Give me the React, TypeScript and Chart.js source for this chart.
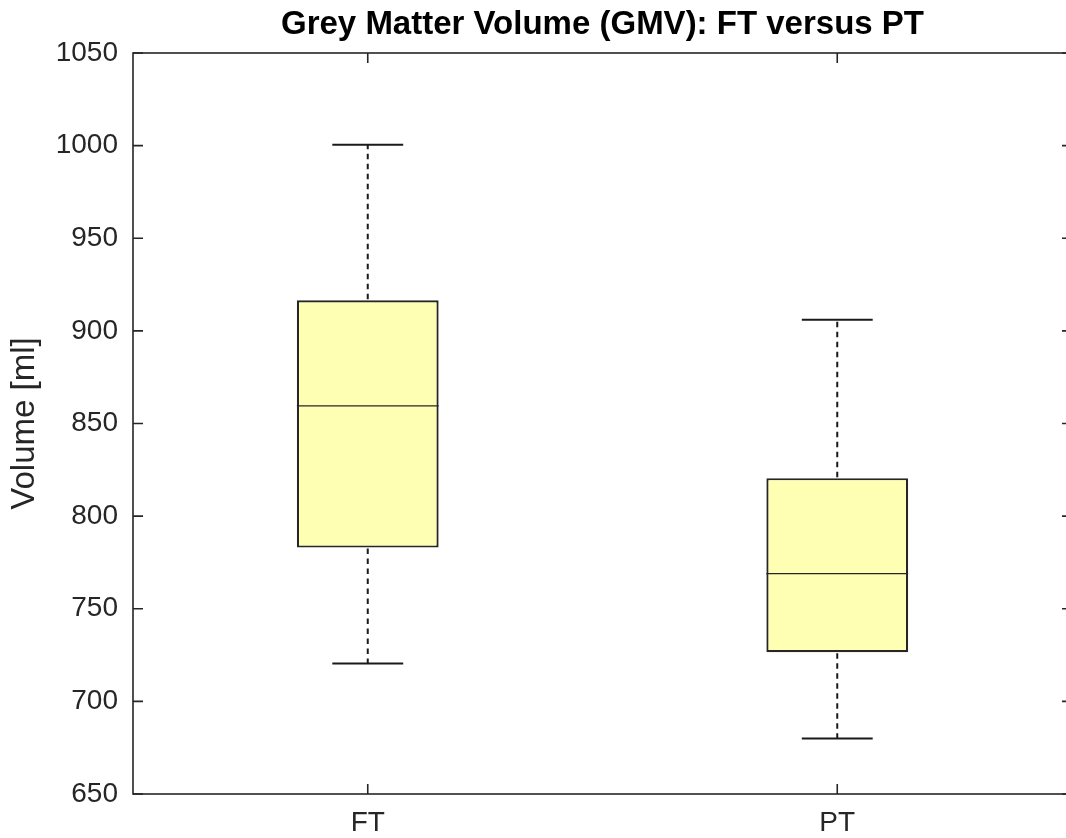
import React, { useEffect, useRef } from "react";
import { Chart, registerables } from "chart.js";

Chart.register(...registerables);

const categories = ["FT", "PT"];
const maxVals = [1000.5, 906];
const q3Vals = [916.5, 820.5];
const medianVals = [859.5, 769];
const q1Vals = [783, 726.5];
const minVals = [720.5, 680];

const FONT = "'Liberation Sans', Arial, Helvetica, sans-serif";
const AX = "#262626";

const boxPlugin = {
  id: "boxExtras",
  afterDatasetsDraw(chart: any) {
    const { ctx, chartArea } = chart;
    const xs = chart.scales.x;
    const ys = chart.scales.y;
    const meta = chart.getDatasetMeta(0);
    ctx.save();
    categories.forEach((_, i) => {
      const bar = meta.data[i];
      const x = xs.getPixelForValue(i);
      const half = bar.width / 2;
      const capHalf = half / 2;
      // median
      ctx.setLineDash([]);
      ctx.strokeStyle = AX;
      ctx.lineWidth = 1.3;
      ctx.beginPath();
      ctx.moveTo(x - half, ys.getPixelForValue(medianVals[i]));
      ctx.lineTo(x + half, ys.getPixelForValue(medianVals[i]));
      ctx.stroke();
      // whiskers (dashed)
      ctx.strokeStyle = "#1a1a1a";
      ctx.lineWidth = 2;
      ctx.setLineDash([5.5, 4.5]);
      ctx.beginPath();
      ctx.moveTo(x, ys.getPixelForValue(q3Vals[i]) - 1);
      ctx.lineTo(x, ys.getPixelForValue(maxVals[i]));
      ctx.moveTo(x, ys.getPixelForValue(q1Vals[i]) + 1);
      ctx.lineTo(x, ys.getPixelForValue(minVals[i]));
      ctx.stroke();
      // caps
      ctx.setLineDash([]);
      ctx.lineWidth = 2;
      ctx.beginPath();
      ctx.moveTo(x - capHalf, ys.getPixelForValue(maxVals[i]));
      ctx.lineTo(x + capHalf, ys.getPixelForValue(maxVals[i]));
      ctx.moveTo(x - capHalf, ys.getPixelForValue(minVals[i]));
      ctx.lineTo(x + capHalf, ys.getPixelForValue(minVals[i]));
      ctx.stroke();
    });
    // frame
    ctx.setLineDash([]);
    ctx.strokeStyle = AX;
    ctx.lineWidth = 1.6;
    ctx.strokeRect(chartArea.left, chartArea.top, chartArea.right - chartArea.left, chartArea.bottom - chartArea.top);
    // inward ticks
    const tl = 10;
    ctx.beginPath();
    ys.ticks.forEach((t: any) => {
      const y = ys.getPixelForValue(t.value);
      ctx.moveTo(chartArea.left, y);
      ctx.lineTo(chartArea.left + tl, y);
      ctx.moveTo(chartArea.right, y);
      ctx.lineTo(chartArea.right - tl, y);
    });
    categories.forEach((_, i) => {
      const x = xs.getPixelForValue(i);
      ctx.moveTo(x, chartArea.bottom);
      ctx.lineTo(x, chartArea.bottom - tl);
      ctx.moveTo(x, chartArea.top);
      ctx.lineTo(x, chartArea.top + tl);
    });
    ctx.stroke();
    ctx.restore();
  },
};

export default function App() {
  const ref = useRef<HTMLCanvasElement>(null);
  useEffect(() => {
    if (!ref.current) return;
    const chart = new Chart(ref.current, {
      type: "bar",
      data: {
        labels: categories,
        datasets: [
          {
            data: categories.map((_, i) => [q1Vals[i], q3Vals[i]]) as any,
            backgroundColor: "#ffffb3",
            borderColor: AX,
            borderWidth: 2.2,
            borderSkipped: false,
            barPercentage: 0.302,
            categoryPercentage: 1,
          },
        ],
      },
      options: {
        responsive: false,
        animation: false,
        events: [],
        layout: { padding: 0 },
        plugins: {
          legend: { display: false },
          tooltip: { enabled: false },
          title: {
            display: true,
            text: "Grey Matter Volume (GMV): FT versus PT",
            color: "#000000",
            fullSize: false,
            font: { family: FONT, size: 33, weight: "bold" },
            padding: { top: 5, bottom: 8.4 },
          },
        },
        scales: {
          x: {
            grid: { display: false, drawTicks: false },
            border: { display: false },
            ticks: { color: AX, font: { family: FONT, size: 28 }, padding: 12 },
            afterFit: (s: any) => {
              s.height = 44;
            },
          },
          y: {
            min: 650,
            max: 1050,
            grid: { display: false, drawTicks: false },
            border: { display: false },
            ticks: {
              stepSize: 50,
              color: AX,
              font: { family: FONT, size: 28 },
              padding: 15,
              callback: (v: any) => String(v),
            },
            title: {
              display: true,
              text: "Volume [ml]",
              color: AX,
              font: { family: FONT, size: 33 },
              padding: { top: 5, bottom: 0 },
            },
            afterFit: (s: any) => {
              s.width = 133;
            },
          },
        },
      },
      plugins: [boxPlugin],
    });
    return () => chart.destroy();
  }, []);
  return (
    <div style={{ position: "absolute", left: 0, top: 0, width: 1066, height: 838, overflow: "hidden", background: "#fff" }}>
      <canvas ref={ref} width={1072} height={838} style={{ display: "block" }} />
    </div>
  );
}
